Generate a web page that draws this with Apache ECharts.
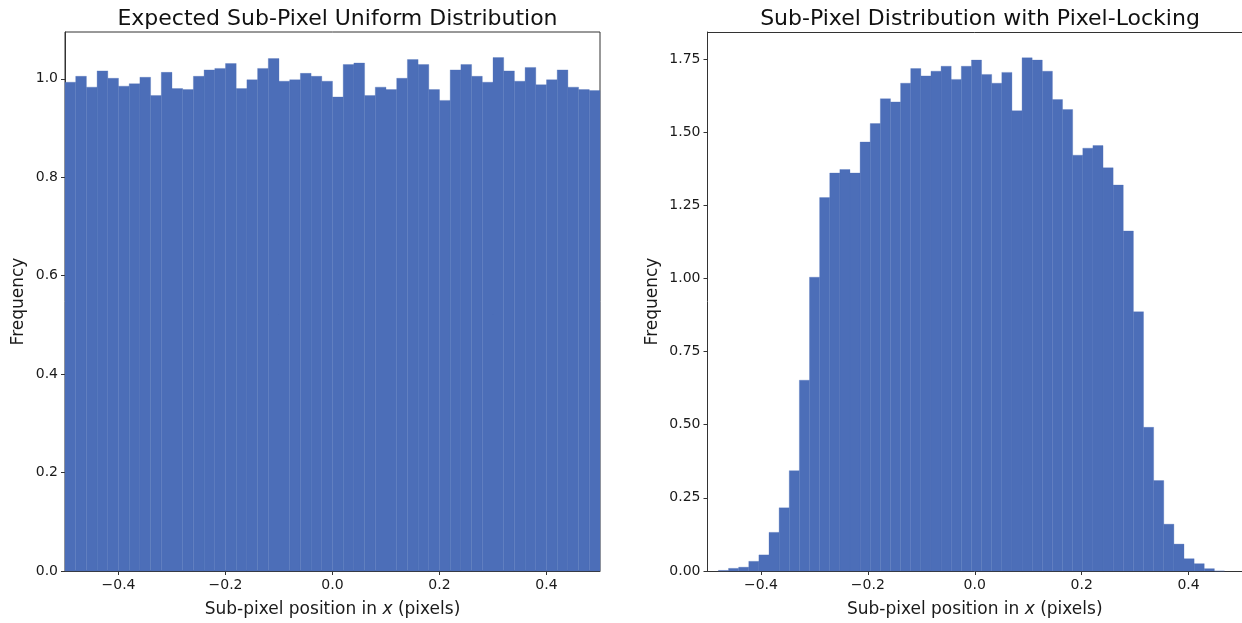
<!DOCTYPE html>
<html>
<head>
<meta charset="utf-8">
<script src="https://cdn.jsdelivr.net/npm/echarts@6/dist/echarts.min.js"></script>
<style>
html,body{margin:0;padding:0;background:#fff;}
#chart{width:1242px;height:623px;}
</style>
</head>
<body>
<div id="chart"></div>
<script>
// ---- Data ----
const titles = ['Expected Sub-Pixel Uniform Distribution', 'Sub-Pixel Distribution with Pixel-Locking'];
const xLabel = 'Sub-pixel position in {i|x} (pixels)';
const yLabel = 'Frequency';

// Left histogram: 50 bins over [-0.5, 0.5]
const uniformBinStart = -0.5;
const uniformBinWidth = 0.02;
const uniformFreq = [
  0.993, 1.005, 0.983, 1.016, 1.001, 0.985, 0.990, 1.003, 0.966, 1.013,
  0.980, 0.978, 1.005, 1.018, 1.021, 1.031, 0.980, 0.998, 1.021, 1.041,
  0.995, 0.998, 1.011, 1.005, 0.995, 0.963, 1.029, 1.032, 0.966, 0.983,
  0.978, 1.001, 1.039, 1.029, 0.978, 0.956, 1.018, 1.029, 1.005, 0.993,
  1.043, 1.016, 0.995, 1.023, 0.988, 0.998, 1.018, 0.983, 0.978, 0.976
];

// Right histogram: 50 bins starting near -0.4796
const lockedBinStart = -0.4796;
const lockedBinWidth = 0.018937;
const lockedFreq = [
  0.002, 0.009, 0.013, 0.033, 0.055, 0.132, 0.216, 0.343, 0.652, 1.004,
  1.276, 1.360, 1.372, 1.360, 1.466, 1.529, 1.614, 1.603, 1.667, 1.717,
  1.692, 1.708, 1.725, 1.680, 1.725, 1.746, 1.697, 1.667, 1.704, 1.573,
  1.754, 1.746, 1.708, 1.611, 1.577, 1.421, 1.445, 1.454, 1.378, 1.319,
  1.162, 0.886, 0.491, 0.309, 0.160, 0.092, 0.042, 0.025, 0.008, 0.000
];

const xTicks = [-0.4, -0.2, 0.0, 0.2, 0.4];
const yTicksLeft = [0, 0.2, 0.4, 0.6, 0.8, 1.0];
const yTicksRight = [0, 0.25, 0.5, 0.75, 1.0, 1.25, 1.5, 1.75];

// ---- Build ----
function toBins(start, width, freq) {
  return freq.map((v, i) => [start + i * width, start + (i + 1) * width, v]);
}
const barColor = '#4C6EB8';
const axisColor = '#333';
const textColor = '#1a1a1a';
const font = 'DejaVu Sans';

function fmtX(v) {
  const s = Math.abs(v).toFixed(1);
  return v < -1e-9 ? '\u2212' + s : s;
}

const grids = [
  {left: 65, top: 32, width: 535, height: 540, show: true, borderColor: axisColor, borderWidth: 1},
  {left: 707.5, top: 32, width: 535, height: 540, show: false}
];

function xAxisCfg(idx) {
  return {
    type: 'value', gridIndex: idx, min: -0.5, max: 0.5,
    splitLine: {show: false},
    axisLine: {show: true, onZero: false, lineStyle: {color: axisColor, width: 1}},
    axisTick: {show: true, length: 4, lineStyle: {color: axisColor}, customValues: xTicks},
    axisLabel: {color: textColor, fontFamily: font, fontSize: 14, margin: 7, customValues: xTicks, formatter: fmtX},
    name: xLabel, nameLocation: 'middle', nameGap: 30,
    nameTextStyle: {color: textColor, fontFamily: font, fontSize: 17,
      rich: {i: {fontStyle: 'italic', fontFamily: font, fontSize: 17, color: textColor}}}
  };
}
// top spine of the right panel
const topSpine = {
  type: 'value', gridIndex: 1, position: 'top', min: -0.5, max: 0.5,
  splitLine: {show: false},
  axisLine: {show: true, onZero: false, lineStyle: {color: axisColor, width: 1}},
  axisTick: {show: false}, axisLabel: {show: false}
};
function yAxisCfg(idx, max, ticks, dec, gap) {
  return {
    type: 'value', gridIndex: idx, min: 0, max: max,
    splitLine: {show: false},
    axisLine: {show: true, onZero: false, lineStyle: {color: axisColor, width: 1}},
    axisTick: {show: true, length: 4, lineStyle: {color: axisColor}, customValues: ticks},
    axisLabel: {color: textColor, fontFamily: font, fontSize: 14, margin: 7, customValues: ticks,
      formatter: v => v.toFixed(dec)},
    name: yLabel, nameLocation: 'middle', nameGap: gap,
    nameTextStyle: {color: textColor, fontFamily: font, fontSize: 17}
  };
}

function histSeries(idx, data) {
  return {
    type: 'custom', xAxisIndex: idx, yAxisIndex: idx,
    data: data, encode: {x: [0, 1], y: 2},
    renderItem: function (params, api) {
      const p0 = api.coord([api.value(0), api.value(2)]);
      const p1 = api.coord([api.value(1), 0]);
      return {
        type: 'rect',
        shape: {x: p0[0], y: p0[1], width: p1[0] - p0[0], height: p1[1] - p0[1]},
        style: {fill: barColor, stroke: barColor, lineWidth: 0.3}
      };
    }
  };
}

const chart = echarts.init(document.getElementById('chart'), null, {renderer: 'canvas'});
chart.setOption({
  animation: false,
  backgroundColor: '#fff',
  title: titles.map((t, i) => ({
    text: t, left: [332.5, 975][i], top: 3, textAlign: 'center',
    textStyle: {fontFamily: font, fontSize: 22, fontWeight: 'normal', color: '#111'}
  })),
  grid: grids,
  xAxis: [xAxisCfg(0), xAxisCfg(1), topSpine],
  yAxis: [yAxisCfg(0, 1.095, yTicksLeft, 1, 38), yAxisCfg(1, 1.842, yTicksRight, 2, 46)],
  series: [
    histSeries(0, toBins(uniformBinStart, uniformBinWidth, uniformFreq)),
    histSeries(1, toBins(lockedBinStart, lockedBinWidth, lockedFreq))
  ]
});
</script>
</body>
</html>
